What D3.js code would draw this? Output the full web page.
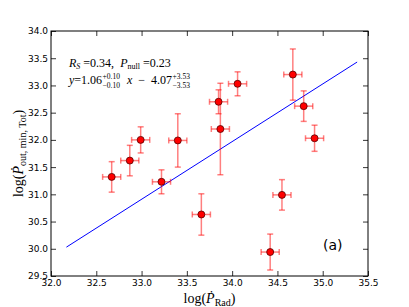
<!DOCTYPE html>
<html lang="en">
<head>
<meta charset="UTF-8">
<title>log P_out vs log P_Rad</title>
<script src="https://d3js.org/d3.v7.min.js"></script>
<style>
  body { margin: 0; background: #fff; }
  .tick text { font-family: "DejaVu Sans", sans-serif; font-size: 9px; fill: #000; }
  .tick line { stroke: #000; stroke-width: 0.8; }
  .serif { font-family: "Liberation Serif", "DejaVu Serif", serif; fill: #000; white-space: pre; }
</style>
</head>
<body>
<div id="chart"></div>
<script>
// values
const xVals = [32.67, 32.87, 32.99, 33.40, 33.22, 33.85, 33.87, 34.06, 34.67, 34.79, 34.91, 33.66, 34.55, 34.42];
const yVals = [31.32, 31.62, 32.00, 31.99, 31.23, 32.70, 32.20, 33.03, 33.20, 32.62, 32.03, 30.63, 30.99, 29.94];
const xErr  = [0.10, 0.10, 0.10, 0.10, 0.10, 0.10, 0.10, 0.10, 0.10, 0.10, 0.10, 0.10, 0.10, 0.10];
const yErr  = [0.28, 0.28, 0.24, 0.49, 0.22, 0.22, 0.84, 0.22, 0.47, 0.28, 0.24, 0.38, 0.28, 0.33];

// end points of the fitted line
const fitX = [32.17, 35.38];
const fitY = [30.03, 33.43];

const xTicks = [32.0, 32.5, 33.0, 33.5, 34.0, 34.5, 35.0, 35.5];
const yTicks = [29.5, 30.0, 30.5, 31.0, 31.5, 32.0, 32.5, 33.0, 33.5, 34.0];

const width = 409;
const height = 307;
const margin = { top: 31, right: 41, bottom: 31, left: 51 };
const w = width - margin.left - margin.right;
const h = height - margin.top - margin.bottom;

const svg = d3.select("#chart")
    .append("svg")
    .attr("width", width)
    .attr("height", height);

const g = svg.append("g")
    .attr("transform", `translate(${margin.left},${margin.top})`);

const xScale = d3.scaleLinear().domain([32.0, 35.5]).range([0, w]);
const yScale = d3.scaleLinear().domain([29.5, 34.0]).range([h, 0]);

// axes, ticks pointing inward like matplotlib classic
g.append("g")
    .attr("transform", `translate(0,${h})`)
    .call(d3.axisBottom(xScale).tickValues(xTicks).tickFormat(d3.format(".1f"))
        .tickSizeInner(-5).tickSizeOuter(0).tickPadding(4))
    .call(a => a.select(".domain").remove());

g.append("g")
    .call(d3.axisTop(xScale).tickValues(xTicks).tickFormat("")
        .tickSizeInner(-5).tickSizeOuter(0))
    .call(a => a.select(".domain").remove());

g.append("g")
    .call(d3.axisLeft(yScale).tickValues(yTicks).tickFormat(d3.format(".1f"))
        .tickSizeInner(-5).tickSizeOuter(0).tickPadding(3))
    .call(a => a.select(".domain").remove());

g.append("g")
    .attr("transform", `translate(${w},0)`)
    .call(d3.axisRight(yScale).tickValues(yTicks).tickFormat("")
        .tickSizeInner(-5).tickSizeOuter(0))
    .call(a => a.select(".domain").remove());

// frame
g.append("rect")
    .attr("width", w)
    .attr("height", h)
    .attr("fill", "none")
    .attr("stroke", "#000")
    .attr("stroke-width", 1);

// fit line
g.append("line")
    .attr("x1", xScale(fitX[0])).attr("y1", yScale(fitY[0]))
    .attr("x2", xScale(fitX[1])).attr("y2", yScale(fitY[1]))
    .attr("stroke", "#0000ff")
    .attr("stroke-width", 1);

// error bars
const pts = xVals.map((x, i) => ({ x: x, y: yVals[i], ex: xErr[i], ey: yErr[i] }));
const cap = 3;
const eb = g.append("g")
    .attr("stroke", "red")
    .attr("stroke-opacity", 0.5)
    .attr("stroke-width", 1.5);

pts.forEach(d => {
    const cx = xScale(d.x), cy = yScale(d.y);
    const y1 = yScale(d.y + d.ey), y2 = yScale(d.y - d.ey);
    const x1 = xScale(d.x - d.ex), x2 = xScale(d.x + d.ex);
    eb.append("line").attr("x1", cx).attr("x2", cx).attr("y1", y1).attr("y2", y2);
    eb.append("line").attr("x1", x1).attr("x2", x2).attr("y1", cy).attr("y2", cy);
    eb.append("line").attr("x1", cx - cap).attr("x2", cx + cap).attr("y1", y1).attr("y2", y1);
    eb.append("line").attr("x1", cx - cap).attr("x2", cx + cap).attr("y1", y2).attr("y2", y2);
    eb.append("line").attr("x1", x1).attr("x2", x1).attr("y1", cy - cap).attr("y2", cy + cap);
    eb.append("line").attr("x1", x2).attr("x2", x2).attr("y1", cy - cap).attr("y2", cy + cap);
});

// markers
g.selectAll(".pt")
    .data(pts)
    .enter()
    .append("circle")
    .attr("class", "pt")
    .attr("cx", d => xScale(d.x))
    .attr("cy", d => yScale(d.y))
    .attr("r", 3.5)
    .attr("fill", "red")
    .attr("stroke", "#550000")
    .attr("stroke-width", 0.8);

// axis labels
svg.append("text")
    .attr("class", "serif")
    .attr("x", margin.left + w / 2)
    .attr("y", 303)
    .attr("text-anchor", "middle")
    .attr("font-size", 14)
    .call(t => {
        t.append("tspan").text("log(");
        t.append("tspan").attr("font-style", "italic").text("Ṗ");
        t.append("tspan").attr("font-size", 10).attr("dy", 3).text("Rad");
        t.append("tspan").attr("dy", -3).text(")");
    });

svg.append("text")
    .attr("class", "serif")
    .attr("transform", `translate(23,${margin.top + h / 2}) rotate(-90)`)
    .attr("text-anchor", "middle")
    .attr("font-size", 14)
    .call(t => {
        t.append("tspan").text("log(");
        t.append("tspan").attr("font-style", "italic").text("Ṗ");
        t.append("tspan").attr("font-size", 10).attr("dy", 3).text("out, min, Tot");
        t.append("tspan").attr("dy", -3).text(")");
    });

// annotation, pieces placed one after another
function mathLine(x, y, pieces) {
    let cx = x;
    pieces.forEach(p => {
        if (p.stack) {
            const a = svg.append("text").attr("class", "serif").attr("font-size", 7.5)
                .attr("x", cx + 0.5).attr("y", y - 5.5).text(p.stack[0]);
            const b = svg.append("text").attr("class", "serif").attr("font-size", 7.5)
                .attr("x", cx + 0.5).attr("y", y + 3.5).text(p.stack[1]);
            cx += Math.max(a.node().getComputedTextLength(), b.node().getComputedTextLength()) + 1.5;
        } else {
            const t = svg.append("text").attr("class", "serif")
                .attr("x", cx).attr("y", y + (p.dy || 0))
                .attr("font-size", p.size || 12)
                .attr("font-style", p.it ? "italic" : "normal")
                .text(p.t);
            cx += t.node().getComputedTextLength();
        }
    });
}

mathLine(69, 67, [
    { t: "R", it: true },
    { t: "S", it: true, size: 8, dy: 2 },
    { t: " =0.34,  " },
    { t: "P", it: true },
    { t: "null", size: 8, dy: 2 },
    { t: " =0.23" }
]);

mathLine(69, 84, [
    { t: "y", it: true },
    { t: "=1.06" },
    { stack: ["+0.10", "\u22120.10"] },
    { t: "  " },
    { t: "x", it: true },
    { t: "  \u2212  4.07" },
    { stack: ["+3.53", "\u22123.53"] }
]);

// panel tag
svg.append("text")
    .attr("x", 323)
    .attr("y", 250)
    .attr("font-family", "DejaVu Sans, sans-serif")
    .attr("font-size", 14)
    .text("(a)");
</script>
</body>
</html>
